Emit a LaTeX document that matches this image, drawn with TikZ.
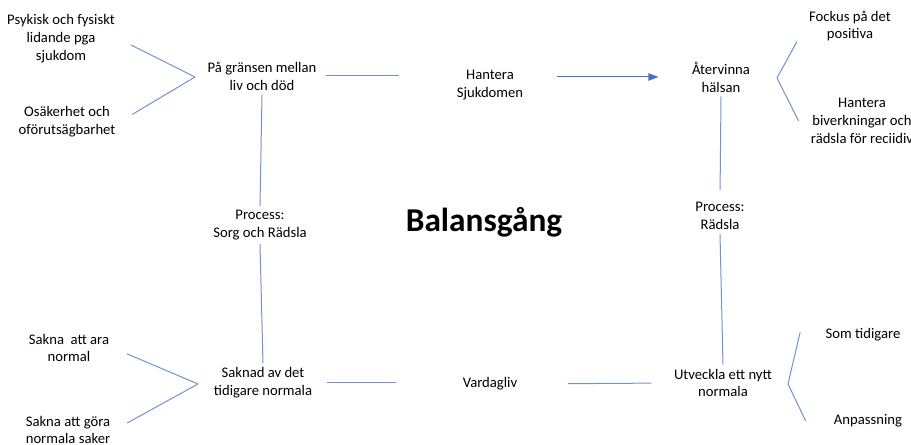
\documentclass[tikz,border=0pt]{standalone}
\usepackage{fontspec}
\setmainfont{Carlito}
\usetikzlibrary{positioning,arrows.meta}
\definecolor{linkblue}{RGB}{114,147,208}
\definecolor{arrowblue}{RGB}{68,114,196}
\tikzset{
  txt/.style={align=center, inner sep=3pt, font=\fontsize{11}{13.4}\selectfont},
  link/.style={draw=linkblue, line width=0.75pt},
}

\begin{document}
\begin{tikzpicture}[x=0.75pt,y=-0.75pt]
    \useasboundingbox (0,0) rectangle (911,445);
    \node[txt] (psy) at (61,39) {Psykisk och fysiskt\\lidande pga\\sjukdom};
    \node[txt] (oso) at (67,122) {Osäkerhet och\\oförutsägbarhet};
    \node[txt] (pa) at (262,76) {På gränsen mellan\\liv och död};
    \node[txt] (hant) at (490,85) {Hantera\\Sjukdomen};
    \node[txt] (ater) at (721,77) {Återvinna\\hälsan};
    \node[txt] (fock) at (850,26) {Fockus på det\\positiva};
    \node[txt] (biv) at (862,121) {Hantera\\biverkningar och\\rädsla för reciidiv};
    \node[txt] (procl) at (260,225) {Process:\\Sorg och Rädsla};
    \node[txt] (procr) at (720,216) {Process:\\Rädsla};
    \node[font=\fontsize{25}{29}\selectfont\bfseries] (bal) at (484,222) {Balansgång};
    \node[txt] (sakn) at (263,383) {Saknad av det\\tidigare normala};
    \node[txt] (vard) at (490,384) {Vardagliv};
    \node[txt] (utv) at (723,383) {Utveckla ett nytt\\normala};
    \node[txt] (ara) at (69,348) {Sakna\ \ att ara\\normal};
    \node[txt] (gora) at (68,430) {Sakna att göra\\normala saker};
    \node[txt] (som) at (863,335) {Som tidigare};
    \node[txt] (anp) at (868,421) {Anpassning};

    % bracket tips
    \coordinate (tl) at (195,77);
    \coordinate (tr) at (777,78);
    \coordinate (bl) at (198,384);
    \coordinate (br) at (788,384);

    \draw[link, shorten <=10pt] (psy.east) -- (tl);
    \draw[link, shorten <=11pt] (oso.east) -- (tl);
    \draw[link, shorten <=11pt] (ara.east) -- (bl);
    \draw[link, shorten <=11pt] (gora.east) -- (bl);
    \draw[link] (tr) -- ([xshift=-6pt,yshift=3pt]fock.south west);
    \draw[link] (tr) -- ([xshift=-6pt]biv.west);
    \draw[link] (br) -- ([xshift=-16pt,yshift=-6pt]som.north west);
    \draw[link] (br) -- ([xshift=-18pt]anp.west);

    \draw[link] (pa.south) -- (procl.north);
    \draw[link] (procl.south) -- (sakn.north);
    \draw[link, shorten >=6pt] (ater.south) -- (procr.north);
    \draw[link] (procr.south) -- (utv.north);

    \draw[link, shorten <=4pt, shorten >=40pt] (pa.east) -- (pa.east -| hant.west);
    \draw[draw=arrowblue, line width=0.75pt, -{Triangle[length=7.5pt,width=5.5pt]}, shorten <=22pt, shorten >=22pt]
        (hant.east |- ater.west) -- (ater.west);
    \draw[link, shorten <=8pt, shorten >=47pt] (sakn.east) -- (sakn.east -| vard.west);
    \draw[link, shorten <=35pt, shorten >=14pt] (vard.east) -- (utv.west);
\end{tikzpicture}
\end{document}
